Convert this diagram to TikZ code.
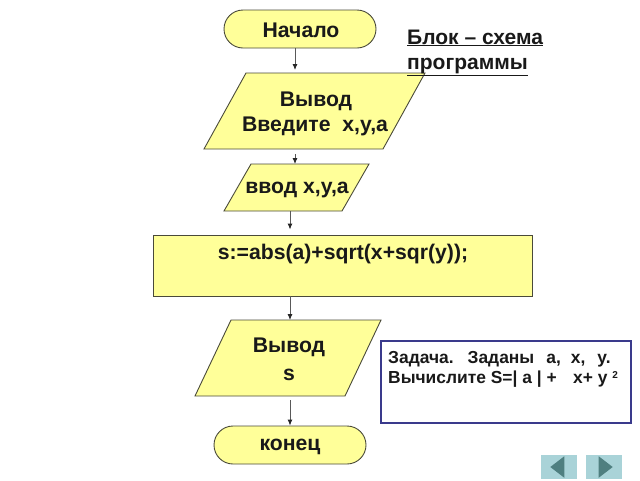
\documentclass[tikz,border=0pt]{standalone}
\usepackage{fontspec}
\setmainfont{Liberation Sans}
\usetikzlibrary{shapes.geometric,shapes.misc,arrows.meta}
\definecolor{blockfill}{HTML}{FFFF99}
\definecolor{blockline}{HTML}{4A4A3A}
\definecolor{notenavy}{HTML}{3A3A8C}
\definecolor{navbtn}{HTML}{A9D3D8}
\definecolor{navtri}{HTML}{4F7F80}
\tikzset{
  x=1pt,y=-1pt,
  term/.style={draw=blockline,fill=blockfill,line width=0.9pt,rounded rectangle,minimum width=152pt,minimum height=38pt,inner sep=0pt},
  paraframe/.style={inner sep=0pt,outer sep=0pt},
  parashape/.style={draw=blockline,fill=blockfill,line width=0.9pt,line join=miter},
  procbox/.style={draw=blockline,fill=blockfill,line width=0.9pt,minimum width=379pt,minimum height=61pt,inner sep=0pt},
  lbl/.style={font=\bfseries\fontsize{21.2}{25}\selectfont,align=center,inner sep=0pt,text=black!90},
  arr/.style={draw=black!65,line width=0.9pt,-{Latex[length=6pt,width=5pt,black!85]}},
  note/.style={font=\bfseries\fontsize{17.4}{21}\selectfont,anchor=base west,inner sep=0pt,text=black!90},
  navbox/.style={fill=navbtn,minimum width=36pt,minimum height=24pt,inner sep=0pt},
  navmark/.style={fill=navtri,isosceles triangle,isosceles triangle apex angle=75,minimum height=14pt,minimum width=16pt,inner sep=0pt}
}
\newcommand{\paradraw}[2]{\draw[parashape] ([xshift=#2pt]#1.north west) -- (#1.north east) -- ([xshift=-#2pt]#1.south east) -- (#1.south west) -- cycle;}
\begin{document}
\begin{tikzpicture}
\useasboundingbox (0,0) rectangle (640,480);
\node[term] (start) at (300,29) {};
\node[paraframe,minimum width=221pt,minimum height=76pt] (out1) at (314.5,111) {};
\node[paraframe,minimum width=145pt,minimum height=47pt] (inp) at (296.5,187.5) {};
\node[procbox] (calc) at (342.5,265.5) {};
\node[paraframe,minimum width=186pt,minimum height=76pt] (out2) at (288,358) {};
\node[term] (stop) at (290,445) {};
\paradraw{out1}{42}
\paradraw{inp}{27}
\paradraw{out2}{36}
\node[lbl] (tstart) at (301,30) {Начало};
\node[lbl] (tout1) at (316,101) {Вывод};
\node[lbl] (tout1b) at (315,126) {Введите\ \ x,y,a};
\node[lbl] (tinp) at (297,190) {ввод x,y,a};
\node[lbl] (tcalc) at (343,254) {s:=abs(a)+sqrt(x+sqr(y));};
\node[lbl] (tout2) at (289,347) {Вывод};
\node[lbl] (tout2b) at (289,375) {s};
\node[lbl] (tstop) at (290,447) {конец};
\coordinate (ax1) at (295,0);
\coordinate (ax2) at (290,0);
\draw[arr,shorten >=3pt] (start.south -| ax1) -- (out1.north -| ax1);
\draw[arr,shorten <=5pt] (out1.south -| ax1) -- (inp.north -| ax1);
\draw[arr,shorten >=5pt] (inp.south -| ax2) -- (calc.north -| ax2);
\draw[arr] (calc.south -| ax2) -- (out2.north -| ax2);
\draw[arr,shorten <=4pt] (out2.south -| ax2) -- (stop.north -| ax2);
\node[note,font=\bfseries\fontsize{21}{25}\selectfont] (title1) at (407,44) {\underline{Блок – схема}};
\node[note,font=\bfseries\fontsize{21}{25}\selectfont] (title2) at (407,69) {\underline{программы}};
\node[draw=notenavy,line width=1.3pt,minimum width=250pt,minimum height=82pt,inner sep=0pt,fill=white] (task) at (506,382) {};
\node[note] (t1) at (388,363) {Задача.\hspace{14pt}Заданы\hspace{12pt}а,\hspace{10pt}x,\hspace{12pt}y.};
\node[note] (t2) at (388,383) {Вычислите S=| a | +\ \ \ \hspace{2pt}x+ y \raisebox{5pt}{\fontsize{10}{10}\selectfont 2}};
\node[navbox] (prev) at (559,467) {};
\node[navbox] (next) at (604,467) {};
\node[navmark,shape border rotate=180] (prevm) at (559,467) {};
\node[navmark] (nextm) at (604,467) {};
\end{tikzpicture}
\end{document}
